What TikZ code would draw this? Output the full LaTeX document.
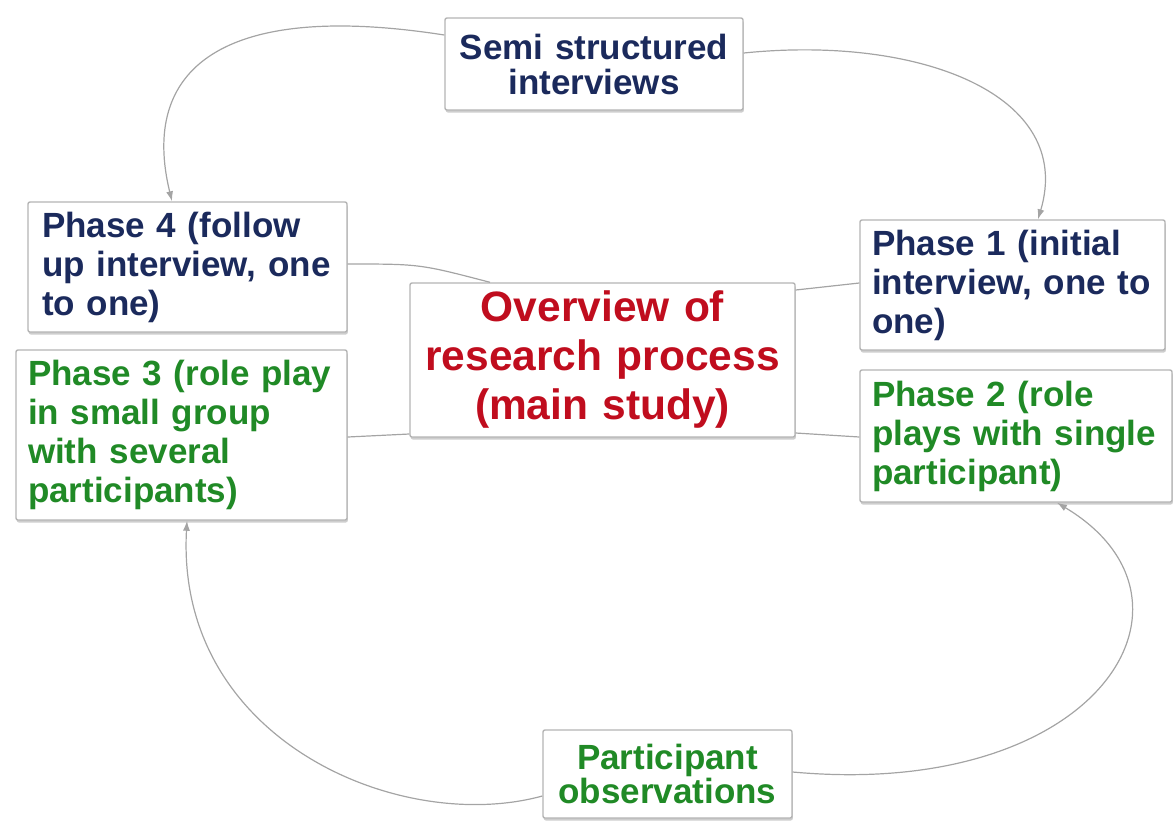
\documentclass[tikz,border=0pt]{standalone}
\usepackage{fontspec}
\setmainfont{Liberation Sans}
\usetikzlibrary{shadows,arrows.meta,calc}
\definecolor{navytxt}{HTML}{1B2A5C}
\definecolor{greentxt}{HTML}{208A26}
\definecolor{redtxt}{HTML}{C00D1E}
\definecolor{boxline}{HTML}{B4B4B4}
\definecolor{linkcol}{HTML}{A4A4A4}
\tikzset{
  boxbase/.style={draw=boxline, line width=1.4pt, fill=white, rounded corners=2pt,
    drop shadow={shadow xshift=0.8pt, shadow yshift=-2.5pt, opacity=0.55, fill=gray!70},
    inner xsep=12pt, inner ysep=0pt, font=\bfseries\fontsize{35}{39}\selectfont},
  phasebox/.style 2 args={boxbase, minimum width=#1, text width=#1-24pt, minimum height=#2, align=left},
  centerbox/.style 2 args={boxbase, minimum width=#1, text width=#1-24pt, minimum height=#2, align=center},
  link/.style={draw=linkcol, line width=1.2pt},
  arrowlink/.style={link, -{Latex[length=10pt,width=7pt]}},
}
\begin{document}
\begin{tikzpicture}[x=1pt,y=-1pt]
\useasboundingbox (0,0) rectangle (1174,823);
\node[centerbox={298pt}{92pt}, text=navytxt, font=\bfseries\fontsize{35}{35}\selectfont] (semi) at (594,64) {Semi structured\\interviews};
\node[phasebox={319pt}{130pt}, text=navytxt, inner xsep=14pt, text width=291pt] (p4) at (187.5,267) {Phase 4 (follow\\up interview, one\\to one)};
\node[phasebox={331pt}{170pt}, text=greentxt] (p3) at (181.5,435) {Phase 3 (role play\\in small group\\with several\\participants)};
\node[centerbox={385pt}{154pt}, text=redtxt, font=\bfseries\fontsize{42.5}{49}\selectfont] (ov) at (602.5,360) {Overview of\\research process\\(main study)};
\node[phasebox={305pt}{130pt}, text=navytxt] (p1) at (1012.5,285) {Phase 1 (initial\\interview, one to\\one)};
\node[phasebox={312pt}{132pt}, text=greentxt] (p2) at (1016,436) {Phase 2 (role\\plays with single\\participant)};
\node[centerbox={249pt}{88pt}, text=greentxt, font=\bfseries\fontsize{35}{34}\selectfont] (po) at (667.5,774) {Participant\\observations};

\draw[arrowlink] ([yshift=29pt]semi.west) .. controls (220,0) and (140,70) .. ([xshift=-15.5pt]p4.north);
\draw[arrowlink] ([yshift=11pt]semi.east) .. controls (920,35) and (1075,95) .. ([xshift=25.5pt]p1.north);
\draw[link] ([yshift=3pt]p4.east) .. controls (420,264) .. ([xshift=-112.5pt]ov.north);
\draw[link] ([yshift=70pt]ov.east) -- ([yshift=2pt]p1.west);
\draw[link] ([yshift=-2pt]p3.east) -- ([yshift=-74pt]ov.west);
\draw[link] ([yshift=-73pt]ov.east) -- ([yshift=-1pt]p2.west);
\draw[arrowlink] ([yshift=-22pt]po.west) .. controls (400,835) and (175,740) .. ([xshift=5.5pt]p3.south);
\draw[arrowlink] ([yshift=2pt]po.east) .. controls (1100,800) and (1220,600) .. ([xshift=41pt]p2.south);
\end{tikzpicture}
\end{document}
